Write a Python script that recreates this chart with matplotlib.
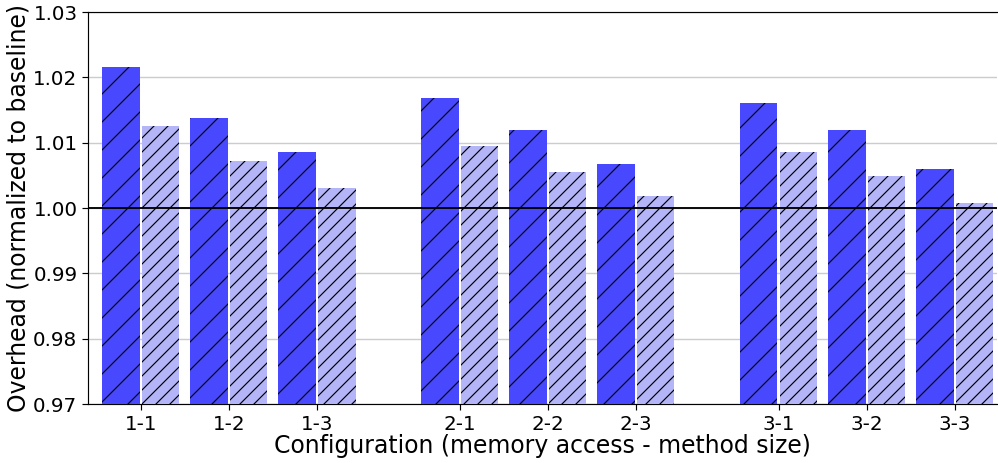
import matplotlib
matplotlib.use('Agg')
import matplotlib.pyplot as plt
import numpy as np

# Datos
configs = ['1-1', '1-2', '1-3', '2-1', '2-2', '2-3', '3-1', '3-2', '3-3']
group_of = [0, 0, 0, 1, 1, 1, 2, 2, 2]
dark_vals = [1.0216, 1.0138, 1.0086, 1.0168, 1.0120, 1.0067, 1.0161, 1.0119, 1.0060]
light_vals = [1.0126, 1.0072, 1.0031, 1.0095, 1.0055, 1.0018, 1.0086, 1.0049, 1.0008]

plt.rcParams['hatch.linewidth'] = 0.5

DPI = 168
fig = plt.figure(figsize=(998 / DPI, 463 / DPI), dpi=DPI)
ax = fig.add_axes([88 / 998, 59 / 463, 909 / 998, 392 / 463])

x = np.arange(len(configs)) + np.array(group_of) * 0.62
base = 0.97
w = 0.425

ax.bar(x - 0.225, np.array(dark_vals) - base, w, bottom=base,
       color='#4848ff', hatch='//', linewidth=0, zorder=3)
ax.bar(x + 0.225, np.array(light_vals) - base, w, bottom=base,
       color='#b4b4f8', hatch='////', linewidth=0, zorder=3)

ax.axhline(1.0, color='black', linewidth=0.8, zorder=4)
ax.yaxis.grid(True, color='#cccccc', linewidth=0.6, zorder=0)
ax.set_axisbelow(True)

ax.set_ylim(0.97, 1.03)
ax.set_yticks([0.97, 0.98, 0.99, 1.00, 1.01, 1.02, 1.03])
ax.set_yticklabels(['0.97', '0.98', '0.99', '1.00', '1.01', '1.02', '1.03'])
ax.set_xlim(-0.6, x[-1] + 0.48)
ax.set_xticks(x)
ax.set_xticklabels(configs)

ax.tick_params(labelsize=8.5, width=0.5, length=2.5, pad=2)
ax.spines['right'].set_visible(False)
for s in ['left', 'bottom', 'top']:
    ax.spines[s].set_linewidth(0.5)

ax.set_xlabel('Configuration (memory access - method size)', fontsize=10.1, labelpad=0)
ax.set_ylabel('Overhead (normalized to baseline)', fontsize=10.1, labelpad=1)

fig.savefig('out.png', dpi=DPI)
